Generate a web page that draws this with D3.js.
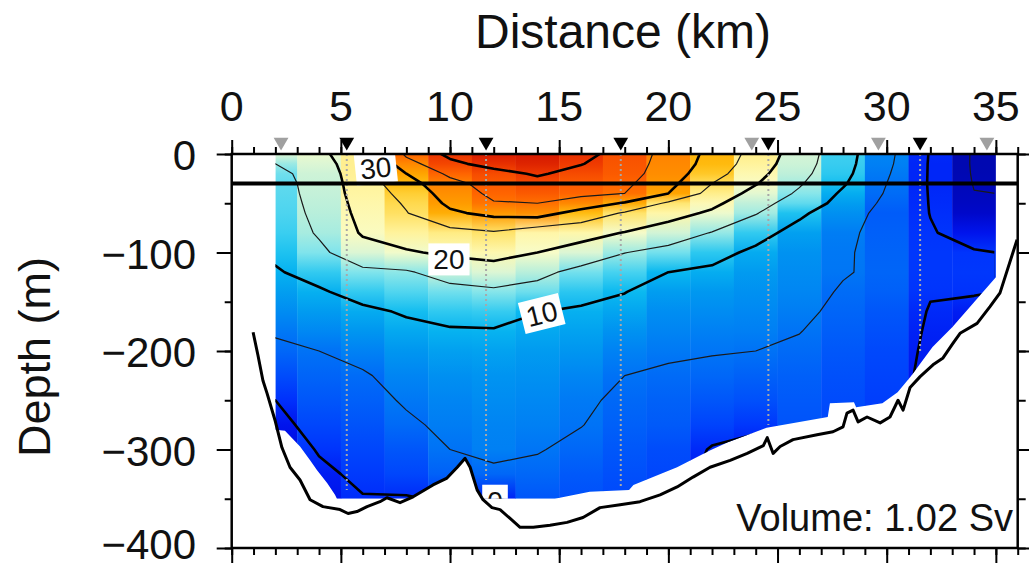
<!DOCTYPE html>
<html>
<head>
<meta charset="utf-8">
<script src="https://cdn.jsdelivr.net/npm/d3@7"></script>
<style>
  body { margin: 0; background: #fff; }
  svg { display: block; }
  text { font-family: "Liberation Sans", Arial, Helvetica, sans-serif; fill: #111; }
</style>
</head>
<body>
<svg id="chart" width="1029" height="569"></svg>
<script>
// ---- Section grid: along-track distance (km) of each profile column, depth levels (m)
const distances = [2, 4, 6, 8, 10, 12, 14, 16, 18, 20, 22, 24, 26, 28, 30, 32, 34];
const depths = [0, 10, 20, 30, 40, 50, 60, 80, 100, 120, 140, 160, 180, 200, 225, 250, 275, 300, 325, 350];

// Along-section velocity (cm/s) for each column, surface to bottom
const v02 = [18, 15, 13.5, 13, 12.8, 12.6, 12.4, 11.8, 10.8, 9.6, 8.4, 7, 5.4, 4.2, 2.3, 0, -1.5, -2.5, -3, -3];
const v04 = [19, 18, 17.3, 17, 16.8, 16.5, 16.2, 15.5, 14, 11.5, 9.5, 8.2, 6.7, 5, 4, 3, 1.8, 0.3, -0.8, -1.5];
const v06 = [23, 23, 22.8, 22.5, 22.2, 21.8, 21.4, 20.5, 18, 14, 11.5, 9.2, 7.8, 6.2, 4.6, 3.7, 2.8, 1.8, 0.8, -0.2];
const v08 = [36, 33, 30, 28, 26.5, 25.5, 24.8, 22.5, 19.5, 14.5, 12.5, 10.4, 9, 7.8, 6.4, 5.4, 4.4, 3, 1.8, -0.3];
const v10 = [41, 39, 36, 33.5, 32.3, 31, 29.2, 23.5, 20.8, 17, 13.5, 11.4, 9.6, 8.5, 7.3, 6.4, 5.8, 5, 3.8, 0.5];
const v12 = [44, 41.5, 38.5, 37, 36, 34.7, 31.3, 24.5, 21.5, 18, 14.2, 11.6, 9.7, 8.6, 7.7, 7, 6.3, 6, 4.2, -0.5];
const v14 = [44.5, 43, 40.5, 38.5, 37, 35, 32.2, 22, 20, 16.2, 13.4, 10.1, 9, 8.2, 7.4, 6.7, 6, 5.2, 4.2, 3];
const v16 = [41.5, 40.2, 38.5, 37, 36, 33, 28, 21.8, 18, 13.6, 11.2, 9.5, 8.6, 7.8, 6.5, 5.6, 5.1, 4.2, 3.2, 2.5];
const v18 = [38, 37.5, 37, 36, 35, 29.5, 24.5, 19.8, 15.1, 12.2, 10.1, 8.8, 7.5, 6.2, 5, 4.3, 3.7, 3.1, 2.5, 2];
const v20 = [33.3, 33, 32.5, 31.5, 30, 24.2, 22, 17.5, 13.6, 10, 8.3, 7.2, 6.3, 5.5, 4.5, 3.8, 3.3, 2.3, 1.8, 1.5];
const v22 = [28.7, 28.2, 27, 25, 23.2, 21.2, 19.2, 14.8, 11.3, 9.3, 8, 7, 6, 5.2, 4.2, 3, 1.6, -0.3, -1, -1];
const v24 = [23.2, 22.5, 21.5, 20.3, 18.5, 16.6, 15.3, 11.5, 9.2, 8.2, 7.4, 6.7, 5.9, 5, 3.8, 2.6, 0.6, -1, -1, -1];
const v26 = [17.6, 17.2, 16.5, 15.5, 14.3, 13, 10.8, 8.5, 7.5, 7, 6.5, 5.8, 5.1, 4.4, 3.7, 3.2, 2.8, 2.4, 2, 2];
const v28 = [11.9, 11.7, 11.3, 10.5, 9.3, 8.3, 7.3, 5.8, 5.4, 5.3, 4.6, 4.1, 3.6, 3.1, 2.6, 2.2, 1.8, 1.5, 1.3, 1];
const v30 = [6.3, 6, 5.5, 5, 4.6, 4, 3.4, 3.7, 3.9, 4.1, 3.7, 3, 2.5, 2, 1.6, 1.2, 1, 0.8, 0.6, 0.5];
const v32 = [-0.3, -0.4, -0.4, -0.4, -0.3, -0.2, -0.1, 0.3, 0.6, 0.6, 0.3, -0.3, -0.6, -0.8, -1, -1, -1, -1, -1, -1];
const v34 = [-5.5, -5.5, -5.4, -5.2, -4.9, -4.6, -4.2, -1.5, 0.3, 0.6, 0.2, -0.8, -1.5, -2, -2, -2, -2, -2, -2, -2];
const columns = [v02, v04, v06, v08, v10, v12, v14, v16, v18, v20, v22, v24, v26, v28, v30, v32, v34];

// Contour levels (cm/s); labelled ones are drawn heavier
const levels = [-5, 0, 5, 10, 15, 20, 25, 30, 35, 40];
const heavyLevels = [0, 10, 20, 30, 40];

// Contour labels
const labelText = ["30", "20", "10", "0"];
const labelKm = [6.6, 9.95, 14.2, 12.06];
const labelDepth = [14, 107, 162, 352];
const labelAngle = [-6, 0, -14, 0];

// Lower limit of gridded data (km, m)
const maskKm = [2, 2.44, 3.13, 3.59, 3.91, 4.37, 4.73, 4.82, 8.03, 8.63, 9.22, 9.86, 10.33, 10.69, 10.92, 11.24, 11.47, 14.8, 16.4, 18.2, 18.4, 19.3, 20.4, 21.9, 22.7, 24.5, 26.0, 27.3, 27.4, 28.5, 28.6, 29.8, 30.5, 31.1, 31.5, 32.1, 33.0, 34.1, 35.0];
const maskDepth = [280, 281, 297, 311, 321, 334, 346, 350, 350, 344, 336, 329, 318, 310, 318, 341, 350, 350, 343, 341, 336, 328, 318, 301, 293, 278, 272, 267, 253, 252, 257, 253, 242, 226, 214, 196, 176, 148, 125];

// Bottom topography along the section (km, m)
const bathyKm = [0.98, 1.20, 1.43, 1.62, 1.98, 2.30, 2.67, 3.13, 3.59, 4.18, 4.96, 5.33, 5.74, 6.20, 6.79, 7.11, 7.71, 8.31, 9.22, 9.86, 10.33, 10.69, 10.92, 11.24, 11.51, 11.92, 12.29, 12.75, 13.21, 13.81, 14.58, 15.36, 16.09, 16.87, 17.79, 18.70, 19.62, 20.40, 21.13, 21.91, 22.83, 23.61, 24.35, 24.53, 24.80, 25.12, 25.71, 26.81, 27.54, 28.00, 28.18, 28.46, 28.69, 29.10, 29.70, 30.15, 30.52, 30.75, 31.07, 31.53, 32.12, 32.58, 33.04, 33.36, 34.14, 34.73, 35.19, 35.97];
const bathyDepth = [181, 204, 230, 243, 270, 298, 318, 331, 351, 358, 361, 365, 363, 358, 353, 349, 354, 348, 336, 329, 318, 309, 318, 341, 351, 359, 361, 370, 379, 379, 377, 374, 369, 359, 356, 353, 346, 338, 328, 318, 311, 304, 296, 288, 304, 297, 290, 285, 282, 277, 263, 260, 272, 267, 273, 267, 250, 260, 237, 226, 214, 207, 192, 182, 172, 155, 141, 87];

// CTD stations (black, with profile lines) and other casts (grey)
const stationKm = [5.27, 11.65, 17.82, 24.58, 31.53];
const stationBottom = [341, 331, 339, 275, 202];
const castKm = [2.26, 23.82, 29.62, 34.59];

const mixedLayerDepth = 30;
const volumeText = "Volume: 1.02 Sv";

// Axis ticks
const xMajor = [0, 5, 10, 15, 20, 25, 30, 35];
const xMinor = d3.range(0, 37, 1);
const yMajor = [0, -100, -200, -300, -400];
const yMinor = d3.range(0, -401, -50);

// ---- colour map (cm/s)
const cStops = [-6, -3, -1, 0, 2, 4, 6, 8, 10, 12, 14, 16, 18, 20, 22, 24, 26, 28, 30, 33, 36, 40, 44, 48];
const cColors = ["#0008a8", "#0008e0", "#0018f0", "#0030fc", "#0048fc", "#0064f8", "#0080f4", "#0098f0",
  "#08b8f0", "#40d0f0", "#80e4ec", "#b4eedc", "#dcf6d4", "#f8fcc8", "#fff6a8", "#ffe878", "#ffd440",
  "#ffbc10", "#ffa400", "#ff8800", "#ff6400", "#f03c00", "#d81c00", "#c00800"];
const color = d3.scaleLinear().domain(cStops).range(cColors).clamp(true);

// ---- layout
const svg = d3.select("#chart");
const x = d3.scaleLinear().domain([0, 36]).range([231.7, 1017.7]);
const y = d3.scaleLinear().domain([0, 400]).range([154, 548]);
const yAxisScale = d3.scaleLinear().domain([0, -400]).range([154, 548]);
const defs = svg.append("defs");

// clip regions built from the data limit
const maskPts = [[distances[0], 0], [35, 0]]
  .concat(maskKm.map((k, i) => [k, maskDepth[i]]).reverse());
const line = d3.line().x(d => x(d[0])).y(d => y(d[1]));
defs.append("clipPath").attr("id", "dataClip").append("path").attr("d", line(maskPts) + "Z");
const contourPts = maskPts.map(p => [Math.min(p[0], 34.93), p[1]]);
defs.append("clipPath").attr("id", "contourClip").append("path").attr("d", line(contourPts) + "Z");

// ---- colour columns with a vertical gradient through each profile
const colG = svg.append("g").attr("clip-path", "url(#dataClip)");
columns.forEach((col, i) => {
  const grad = defs.append("linearGradient").attr("id", "g" + i)
    .attr("x1", 0).attr("y1", 0).attr("x2", 0).attr("y2", 1);
  col.forEach((v, j) => {
    grad.append("stop").attr("offset", depths[j] / depths[depths.length - 1]).attr("stop-color", color(v));
  });
  const x0 = Math.max(distances[0], distances[i] - 1);
  const x1 = Math.min(35, distances[i] + 1);
  colG.append("rect")
    .attr("x", x(x0)).attr("width", x(x1) - x(x0) + 0.4)
    .attr("y", y(0)).attr("height", y(depths[depths.length - 1]) - y(0))
    .attr("fill", "url(#g" + i + ")");
});

// ---- contours
const nx = distances.length, ny = depths.length;
const grid = new Array(nx * ny);
columns.forEach((col, i) => col.forEach((v, j) => { grid[i + j * nx] = v; }));
const gx = d3.scaleLinear().domain([0.5, nx - 0.5]).range([distances[0], distances[nx - 1]]);
const gy = d3.scaleLinear().domain(depths.map((d, j) => j + 0.5)).range(depths);
const proj = d3.geoTransform({ point(px, py) { this.stream.point(x(gx(px)), y(gy(py))); } });
const cpath = d3.geoPath(proj);
const iso = d3.contours().size([nx, ny]).thresholds(levels)(grid);
svg.append("g").attr("clip-path", "url(#contourClip)")
  .selectAll("path").data(iso).join("path")
  .attr("d", cpath)
  .attr("fill", "none")
  .attr("stroke", d => heavyLevels.includes(d.value) ? "#000" : "#1a1a1a")
  .attr("stroke-width", d => heavyLevels.includes(d.value) ? 2.6 : 1.2)
  .attr("stroke-linejoin", "round");

// ---- station profile lines
svg.append("g").selectAll("line").data(stationKm).join("line")
  .attr("x1", d => x(d)).attr("x2", d => x(d))
  .attr("y1", y(0)).attr("y2", (d, i) => y(stationBottom[i]))
  .attr("stroke", "#a8a8a8").attr("stroke-width", 2).attr("stroke-dasharray", "2,3");

// ---- contour labels
const lab = svg.append("g").attr("clip-path", "url(#dataClip)")
  .selectAll("g").data(labelText).join("g")
  .attr("transform", (d, i) => `translate(${x(labelKm[i])},${y(labelDepth[i])}) rotate(${labelAngle[i]})`);
lab.append("rect")
  .attr("x", d => -(d.length * 15.6 + 10) / 2).attr("width", d => d.length * 15.6 + 10)
  .attr("y", -16).attr("height", 32).attr("fill", "#fff");
lab.append("text").text(d => d)
  .attr("text-anchor", "middle").attr("dy", "0.36em")
  .style("font-size", "28px");

// ---- bottom topography
svg.append("path")
  .attr("d", d3.line().x((d, i) => x(bathyKm[i])).y((d, i) => y(bathyDepth[i]))(bathyKm))
  .attr("fill", "none").attr("stroke", "#000").attr("stroke-width", 3)
  .attr("stroke-linejoin", "round");

// ---- mixed layer line
svg.append("line")
  .attr("x1", x(0)).attr("x2", x(36)).attr("y1", y(mixedLayerDepth)).attr("y2", y(mixedLayerDepth))
  .attr("stroke", "#000").attr("stroke-width", 4);

// ---- axes
function styleAxis(g) {
  g.select(".domain").remove();
  g.selectAll(".tick line").attr("stroke", "#000").attr("stroke-width", 2);
  g.selectAll(".tick text").remove();
}
svg.append("g").attr("transform", `translate(0,${y(0)})`)
  .call(d3.axisTop(x).tickValues(xMinor).tickSize(7)).call(styleAxis);
svg.append("g").attr("transform", `translate(0,${y(0)})`)
  .call(d3.axisTop(x).tickValues(xMajor).tickSize(14)).call(styleAxis);
svg.append("g").attr("transform", `translate(0,${y(400)})`)
  .call(d3.axisBottom(x).tickValues(xMinor).tickSize(7)).call(styleAxis);
svg.append("g").attr("transform", `translate(0,${y(400)})`)
  .call(d3.axisBottom(x).tickValues(xMajor).tickSize(15)).call(styleAxis);
svg.append("g").attr("transform", `translate(${x(0)},0)`)
  .call(d3.axisLeft(yAxisScale).tickValues(yMinor).tickSize(7)).call(styleAxis);
svg.append("g").attr("transform", `translate(${x(0)},0)`)
  .call(d3.axisLeft(yAxisScale).tickValues(yMajor).tickSize(15)).call(styleAxis);
svg.append("g").attr("transform", `translate(${x(36)},0)`)
  .call(d3.axisRight(yAxisScale).tickValues(yMinor).tickSize(8)).call(styleAxis);
svg.append("g").attr("transform", `translate(${x(36)},0)`)
  .call(d3.axisRight(yAxisScale).tickValues(yMajor).tickSize(14)).call(styleAxis);

svg.append("rect")
  .attr("x", x(0)).attr("y", y(0)).attr("width", x(36) - x(0)).attr("height", y(400) - y(0))
  .attr("fill", "none").attr("stroke", "#000").attr("stroke-width", 2.5);

// tick labels
svg.append("g").selectAll("text").data(xMajor).join("text")
  .attr("x", d => x(d)).attr("y", 121).attr("text-anchor", "middle")
  .style("font-size", "43px").text(d => d);
const fmt = d3.format("d");
svg.append("g").selectAll("text").data(yMajor).join("text")
  .attr("x", 196).attr("y", d => Math.min(yAxisScale(d) + 16, 559)).attr("text-anchor", "end")
  .style("font-size", "42px").text(d => fmt(d));

// station markers
const tri = d3.symbol().type(d3.symbolTriangle).size(95);
svg.append("g").selectAll("path").data(castKm).join("path")
  .attr("d", tri).attr("fill", "#a0a0a0")
  .attr("transform", d => `translate(${x(d)},${y(0) - 12}) rotate(180)`);
svg.append("g").selectAll("path").data(stationKm).join("path")
  .attr("d", tri).attr("fill", "#000")
  .attr("transform", d => `translate(${x(d)},${y(0) - 12}) rotate(180)`);

// titles
svg.append("text").attr("x", 623).attr("y", 48).attr("text-anchor", "middle")
  .style("font-size", "48px").text("Distance (km)");
svg.append("text").attr("transform", "translate(50,357) rotate(-90)").attr("text-anchor", "middle")
  .style("font-size", "45px").text("Depth (m)");
svg.append("text").attr("x", 1013).attr("y", 531).attr("text-anchor", "end")
  .style("font-size", "38px").text(volumeText);
</script>
</body>
</html>
